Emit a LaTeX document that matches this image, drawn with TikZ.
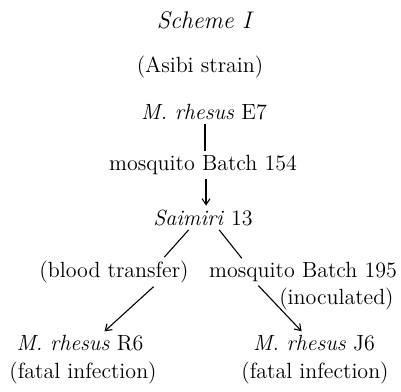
\documentclass[tikz,border=0pt]{standalone}
\usepackage{tikz}
\usetikzlibrary{arrows.meta,positioning}

\begin{document}
\begin{tikzpicture}[
    x=0.5pt, y=-0.5pt,
    font=\fontsize{11}{13}\selectfont,
    lbl/.style={inner sep=1pt, anchor=center},
    link/.style={line width=0.55pt, shorten <=1pt, shorten >=1pt},
    wire/.style={link, -{Straight Barb[length=3pt,width=4pt]}}
  ]
    \useasboundingbox (0,0) rectangle (401,391);
    \node[lbl, font=\fontsize{12}{14}\selectfont\itshape] (title) at (204,20) {Scheme I};
    \node[lbl] (strain) at (200,67) {(Asibi strain)};
    \node[lbl] (e7) at (204,112) {\textit{M. rhesus} E7};
    \node[lbl] (b154) at (203,165) {mosquito Batch 154};
    \node[lbl] (sai) at (203,218) {\textit{Saimiri} 13};
    \node[lbl] (blood) at (114,272) {(blood transfer)};
    \node[lbl] (b195) at (303,272) {mosquito Batch 195};
    \node[lbl, anchor=east] (inoc) at (396,299) {(inoculated)};
    \node[lbl] (r6) at (80,343) {\textit{M. rhesus} R6};
    \node[lbl] (r6fate) at (83,373) {(fatal infection)};
    \node[lbl] (j6) at (314,343) {\textit{M. rhesus} J6};
    \node[lbl] (j6fate) at (315,373) {(fatal infection)};
    \draw[link] ([xshift=0.5pt]e7.south) -- ([xshift=1pt]b154.north);
    \draw[wire] ([xshift=1.5pt]b154.south) -- ([xshift=1.5pt]sai.north);
    \draw[link] ([xshift=-6.5pt]sai.south) -- ([xshift=24.5pt]blood.north);
    \draw[link] ([xshift=7.5pt]sai.south) -- ([xshift=-30pt]b195.north);
    \draw[wire] ([xshift=20.5pt]blood.south) -- ([xshift=11.5pt]r6.north);
    \draw[wire] ([xshift=-23pt]b195.south) -- ([xshift=-5.5pt]j6.north);
  \end{tikzpicture}
\end{document}
